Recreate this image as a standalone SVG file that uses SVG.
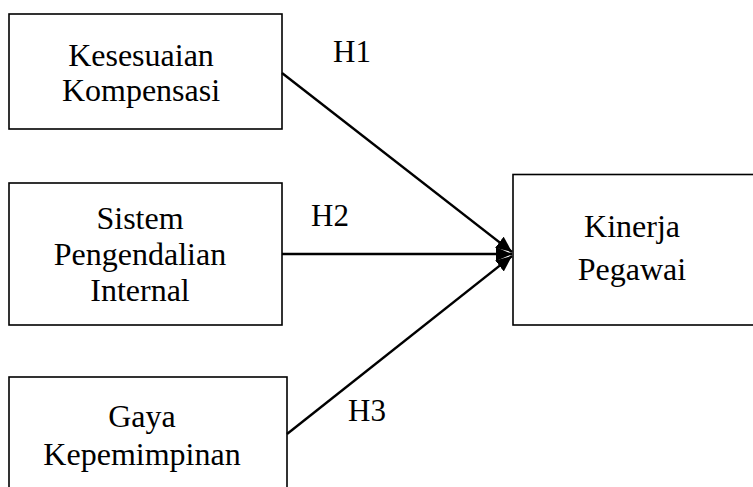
<svg xmlns="http://www.w3.org/2000/svg" width="753" height="487" viewBox="0 0 753 487">
<style>
.box{fill:#fff;stroke:#000;stroke-width:1.6}
.t{font-family:"Liberation Serif","Times New Roman",serif;font-size:32px;fill:#000;text-anchor:middle}
.h{font-family:"Liberation Serif","Times New Roman",serif;font-size:31px;fill:#000}
.c{stroke:#000;stroke-width:2.4;fill:none}
</style>
<defs>
<marker id="ah" markerUnits="userSpaceOnUse" markerWidth="20" markerHeight="16" refX="16" refY="7" orient="auto">
<path d="M0,0 L16,7 L0,14 Z" fill="#000"/>
</marker>
</defs>
<rect width="753" height="487" fill="#fff"/>
<g id="n1">
<rect class="box" x="9" y="14" width="273" height="115"/>
<text class="t" x="141" y="66">Kesesuaian</text>
<text class="t" x="141" y="101">Kompensasi</text>
</g>
<g id="n2">
<rect class="box" x="9" y="183" width="273" height="142"/>
<text class="t" x="140" y="229">Sistem</text>
<text class="t" x="140" y="265">Pengendalian</text>
<text class="t" x="140" y="301">Internal</text>
</g>
<g id="n3">
<rect class="box" x="9" y="377" width="278" height="130"/>
<text class="t" x="142" y="427">Gaya</text>
<text class="t" x="142" y="465">Kepemimpinan</text>
</g>
<g id="n4">
<rect class="box" x="513" y="174.5" width="250" height="150.5"/>
<text class="t" x="632" y="237">Kinerja</text>
<text class="t" x="632" y="280">Pegawai</text>
</g>
<g id="connectors">
<line class="c" x1="282" y1="73" x2="512" y2="252" marker-end="url(#ah)"/>
<line class="c" x1="282" y1="254" x2="512" y2="254" marker-end="url(#ah)"/>
<line class="c" x1="287" y1="434" x2="512" y2="256" marker-end="url(#ah)"/>
<text class="h" x="333" y="62">H1</text>
<text class="h" x="311" y="226">H2</text>
<text class="h" x="348" y="421">H3</text>
</g>
</svg>
